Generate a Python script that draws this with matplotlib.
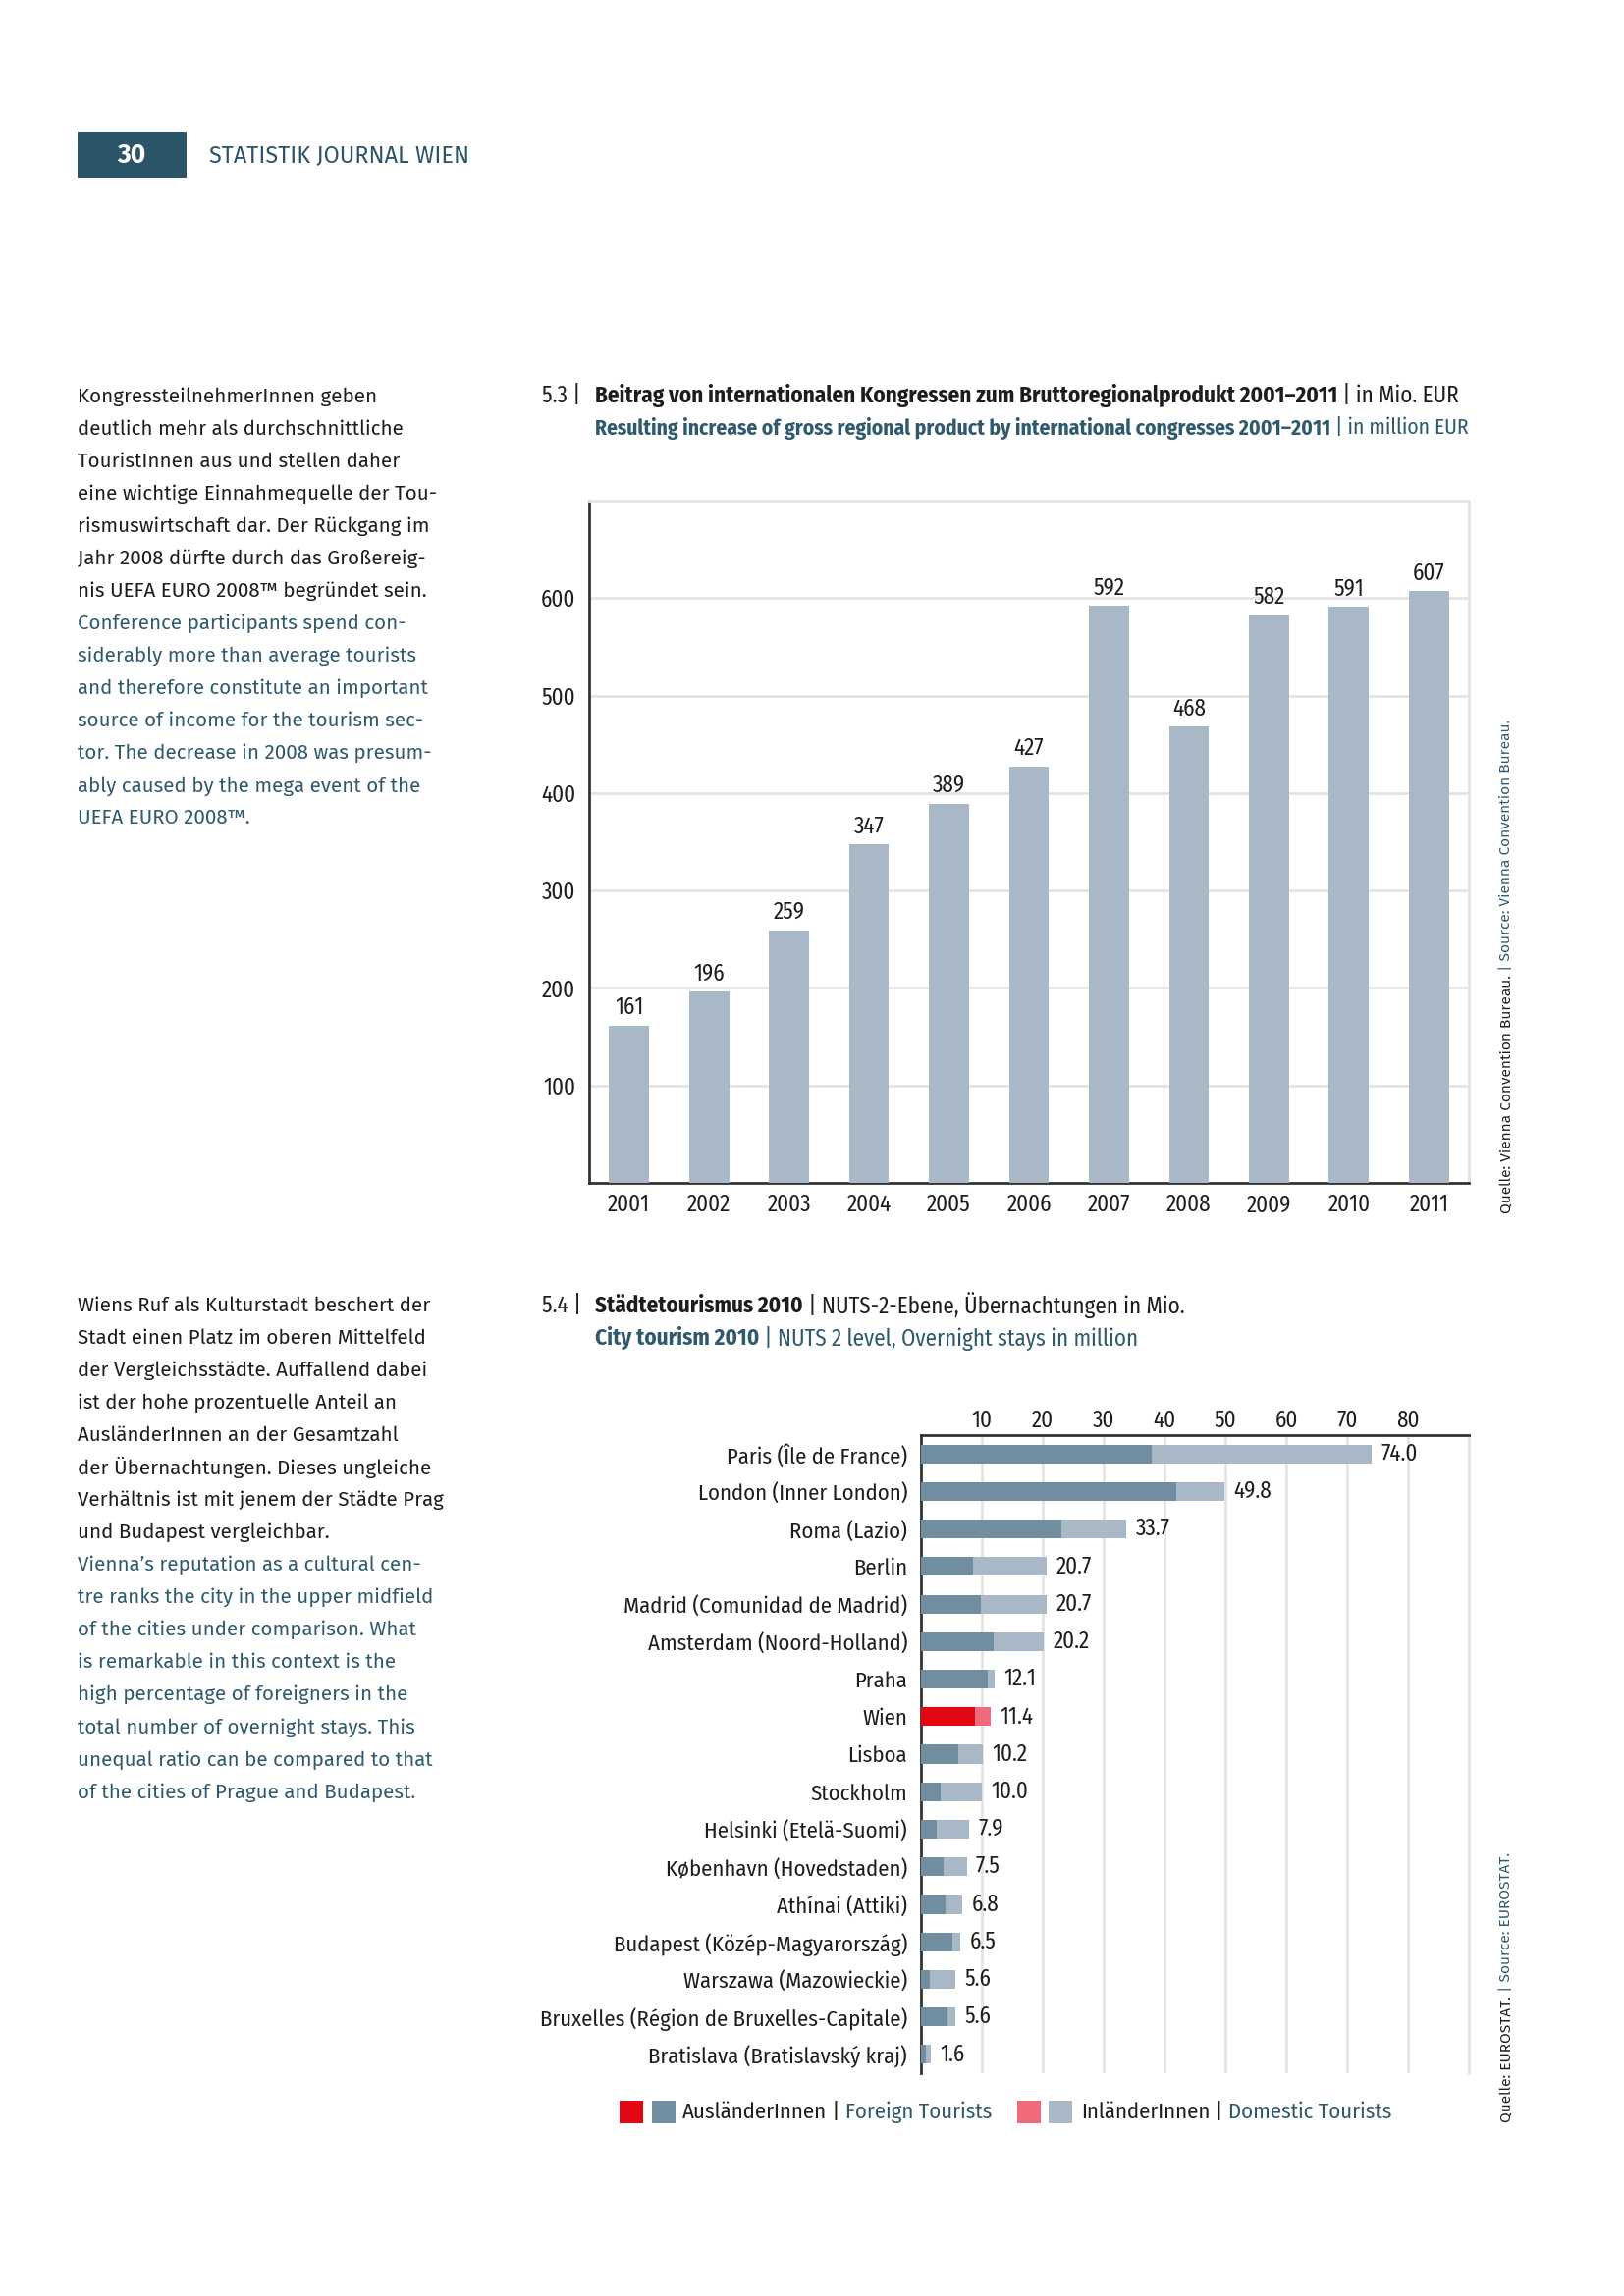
import matplotlib
matplotlib.use("Agg")
import matplotlib.pyplot as plt
from matplotlib import font_manager as fm
from matplotlib.patches import Rectangle
import numpy as np

# ---------------- data ----------------
years = ['2001', '2002', '2003', '2004', '2005', '2006', '2007', '2008', '2009', '2010', '2011']
gdp_contribution = [161, 196, 259, 347, 389, 427, 592, 468, 582, 591, 607]
gdp_ticks = [100, 200, 300, 400, 500, 600]

cities = ['Paris (Île de France)', 'London (Inner London)', 'Roma (Lazio)', 'Berlin',
          'Madrid (Comunidad de Madrid)', 'Amsterdam (Noord-Holland)', 'Praha', 'Wien',
          'Lisboa', 'Stockholm', 'Helsinki (Etelä-Suomi)', 'København (Hovedstaden)',
          'Athínai (Attiki)', 'Budapest (Közép-Magyarország)', 'Warszawa (Mazowieckie)',
          'Bruxelles (Région de Bruxelles-Capitale)', 'Bratislava (Bratislavský kraj)']
total_stays = [74.0, 49.8, 33.7, 20.7, 20.7, 20.2, 12.1, 11.4, 10.2, 10.0, 7.9, 7.5, 6.8, 6.5, 5.6, 5.6, 1.6]
foreign_stays = [37.9, 41.9, 23.1, 8.5, 9.8, 12.0, 10.9, 8.9, 6.2, 3.2, 2.6, 3.7, 4.1, 5.2, 1.5, 4.4, 0.8]
stay_ticks = [10, 20, 30, 40, 50, 60, 70, 80]
highlight_city = 'Wien'

# ---------------- fonts ----------------
avail = {f.name for f in fm.fontManager.ttflist}
def pick(cands):
    for c in cands:
        if c in avail:
            return c
    return 'DejaVu Sans'

COND = pick(['Fira Sans Condensed', 'Fira Sans Extra Condensed', 'Roboto Condensed',
             'PT Sans Narrow', 'Open Sans Condensed', 'Liberation Sans Narrow', 'Roboto'])
BODY = pick(['Fira Sans', 'Open Sans', 'Noto Sans', 'Lato'])

BLACK = '#1d1d1b'
TEAL = '#2f5a6e'
HEAD = '#2a5468'
BAR = '#a8b8c7'
FOREIGN = '#718ea1'
DOMESTIC = '#a8b8c7'
WIEN_F = '#e30613'
WIEN_D = '#ef6b7b'
GRID = '#e4e4e4'
SPINE = '#333333'

W, H = 1654, 2339
DPI = 200
fig = plt.figure(figsize=(W / DPI, H / DPI), dpi=DPI)
fig.patch.set_facecolor('white')

def fx(x):
    return x / W
def fy(y):
    return 1 - y / H

renderer = fig.canvas.get_renderer()

def seg_text(x, y, parts, size, family):
    """parts: list of (text, color, weight)"""
    cur = x
    for s, col, wt in parts:
        t = fig.text(fx(cur), fy(y), s, color=col, fontsize=size, fontweight=wt,
                     family=family, va='center', ha='left')
        bb = t.get_window_extent(renderer)
        cur = bb.x1
    return cur

# ---------------- header ----------------
fig.patches.append(Rectangle((fx(79), fy(180.5)), fx(189.5) - fx(79), fy(134) - fy(180.5),
                             transform=fig.transFigure, facecolor=HEAD, edgecolor='none'))
fig.text(fx(134), fy(158), '30', color='white', fontsize=9.5, fontweight='bold',
         family=BODY, ha='center', va='center')
fig.text(fx(213), fy(158), 'STATISTIK JOURNAL WIEN', color=HEAD, fontsize=8.45,
         family=BODY, ha='left', va='center')

# ---------------- body text ----------------
block1_de = ["KongressteilnehmerInnen geben",
             "deutlich mehr als durchschnittliche",
             "TouristInnen aus und stellen daher",
             "eine wichtige Einnahmequelle der Tou-",
             "rismuswirtschaft dar. Der Rückgang im",
             "Jahr 2008 dürfte durch das Großereig-",
             "nis UEFA EURO 2008™ begründet sein."]
block1_en = ["Conference participants spend con-",
             "siderably more than average tourists",
             "and therefore constitute an important",
             "source of income for the tourism sec-",
             "tor. The decrease in 2008 was presum-",
             "ably caused by the mega event of the",
             "UEFA EURO 2008™."]
block2_de = ["Wiens Ruf als Kulturstadt beschert der",
             "Stadt einen Platz im oberen Mittelfeld",
             "der Vergleichsstädte. Auffallend dabei",
             "ist der hohe prozentuelle Anteil an",
             "AusländerInnen an der Gesamtzahl",
             "der Übernachtungen. Dieses ungleiche",
             "Verhältnis ist mit jenem der Städte Prag",
             "und Budapest vergleichbar."]
block2_en = ["Vienna’s reputation as a cultural cen-",
             "tre ranks the city in the upper midfield",
             "of the cities under comparison. What",
             "is remarkable in this context is the",
             "high percentage of foreigners in the",
             "total number of overnight stays. This",
             "unequal ratio can be compared to that",
             "of the cities of Prague and Budapest."]

def body_block(y0, de, en, step=33.05):
    i = 0
    for line in de:
        fig.text(fx(79), fy(y0 + i * step), line, color=BLACK, fontsize=7.4,
                 family=BODY, ha='left', va='center')
        i += 1
    for line in en:
        fig.text(fx(79), fy(y0 + i * step), line, color=TEAL, fontsize=7.4,
                 family=BODY, ha='left', va='center')
        i += 1

body_block(404, block1_de, block1_en)
body_block(1330, block2_de, block2_en)

# ---------------- titles ----------------
TS = 8.3
fig.text(fx(552), fy(403), '5.3 |', color=BLACK, fontsize=TS, family=COND, ha='left', va='center')
seg_text(606, 403, [('Beitrag von internationalen Kongressen zum Bruttoregionalprodukt 2001–2011', BLACK, 'bold'),
                    (' | in Mio. EUR', BLACK, 'normal')], TS, COND)
seg_text(606, 436, [('Resulting increase of gross regional product by international congresses 2001–2011', TEAL, 'bold'),
                    (' | in million EUR', TEAL, 'normal')], 7.75, COND)

fig.text(fx(552), fy(1330), '5.4 |', color=BLACK, fontsize=TS, family=COND, ha='left', va='center')
seg_text(606, 1330, [('Städtetourismus 2010', BLACK, 'bold'),
                     (' | NUTS-2-Ebene, Übernachtungen in Mio.', BLACK, 'normal')], TS, COND)
seg_text(606, 1363, [('City tourism 2010', TEAL, 'bold'),
                     (' | NUTS 2 level, Overnight stays in million', TEAL, 'normal')], TS, COND)

LS = 8.3
# ---------------- chart 5.3 ----------------
ax1 = fig.add_axes([fx(600), fy(1205), fx(1496) - fx(600), fy(510) - fy(1205)])
x = np.arange(len(years))
ax1.bar(x, gdp_contribution, width=0.5, color=BAR, zorder=3)
for xi, v in zip(x, gdp_contribution):
    ax1.annotate(str(v), (xi, v), xytext=(0, 2.5), textcoords='offset points',
                 ha='center', va='bottom', fontsize=LS, family=COND, color=BLACK)
ax1.set_xlim(-0.5, len(years) - 0.5)
ax1.set_ylim(0, 700)
ax1.set_yticks(gdp_ticks)
ax1.set_yticklabels([str(t) for t in gdp_ticks])
ax1.set_xticks(x)
ax1.set_xticklabels(years)
ax1.tick_params(axis='both', length=0, labelsize=LS, colors=BLACK)
ax1.tick_params(axis='y', pad=5)
ax1.tick_params(axis='x', pad=4)
for lab in ax1.get_xticklabels() + ax1.get_yticklabels():
    lab.set_family(COND)
ax1.grid(axis='y', color=GRID, linewidth=1.0, zorder=0)
ax1.set_axisbelow(True)
for s in ['top', 'right']:
    ax1.spines[s].set_color(GRID)
    ax1.spines[s].set_linewidth(1.0)
for s in ['left', 'bottom']:
    ax1.spines[s].set_color(SPINE)
    ax1.spines[s].set_linewidth(1.0)

# ---------------- chart 5.4 ----------------
ax2 = fig.add_axes([fx(938), fy(2112), fx(1496) - fx(938), fy(1462) - fy(2112)])
y = np.arange(len(cities))
domestic = [t - f for t, f in zip(total_stays, foreign_stays)]
fcols = [WIEN_F if c == highlight_city else FOREIGN for c in cities]
dcols = [WIEN_D if c == highlight_city else DOMESTIC for c in cities]
ax2.barh(y, foreign_stays, height=0.5, color=fcols, zorder=3)
ax2.barh(y, domestic, left=foreign_stays, height=0.5, color=dcols, zorder=3)
for yi, t in zip(y, total_stays):
    ax2.annotate(f'{t:.1f}', (t, yi), xytext=(3.4, 0), textcoords='offset points',
                 ha='left', va='center', fontsize=LS, family=COND, color=BLACK)
ax2.set_xlim(0, 90)
ax2.set_ylim(len(cities) - 0.5, -0.5)
ax2.set_yticks(y)
ax2.set_yticklabels(cities)
ax2.set_xticks(stay_ticks)
ax2.set_xticklabels([str(t) for t in stay_ticks])
ax2.xaxis.tick_top()
ax2.tick_params(axis='both', length=0, labelsize=LS, colors=BLACK)
ax2.tick_params(axis='x', pad=1.2)
ax2.tick_params(axis='y', pad=5)
for lab in ax2.get_xticklabels():
    lab.set_family(COND)
for lab in ax2.get_yticklabels():
    lab.set_family(COND)
    lab.set_fontsize(8.2)
ax2.grid(axis='x', color=GRID, linewidth=1.0, zorder=0)
ax2.set_axisbelow(True)
ax2.spines['bottom'].set_visible(False)
ax2.spines['right'].set_color(GRID)
ax2.spines['right'].set_linewidth(1.0)
for s in ['left', 'top']:
    ax2.spines[s].set_color(SPINE)
    ax2.spines[s].set_linewidth(1.0)

# ---------------- legend ----------------
LY = 2151.5
SQ = 23.5
for x0, col in [(631, WIEN_F), (664, FOREIGN), (1036, WIEN_D), (1068, DOMESTIC)]:
    fig.patches.append(Rectangle((fx(x0), fy(LY + SQ / 2)), fx(SQ), SQ / H,
                                 transform=fig.transFigure, facecolor=col, edgecolor='none'))
seg_text(695, LY, [('AusländerInnen', BLACK, 'normal'), (' | ', BLACK, 'normal'),
                   ('Foreign Tourists', TEAL, 'normal')], 8.2, COND)
seg_text(1101, LY, [('InländerInnen', BLACK, 'normal'), (' | ', BLACK, 'normal'),
                    ('Domestic Tourists', TEAL, 'normal')], 8.2, COND)

# ---------------- sources (rotated) ----------------
def rot_source(xc, ybottom, de, en, size=5.55):
    t1 = fig.text(fx(xc), fy(ybottom), de, rotation=90, color=BLACK, fontsize=size,
                  family=BODY, ha='center', va='bottom')
    bb = t1.get_window_extent(renderer)
    fig.text(fx(xc), bb.y1 / H, ' | ' + en, rotation=90, color=TEAL, fontsize=size,
             family=BODY, ha='center', va='bottom')

rot_source(1534, 1236, 'Quelle: Vienna Convention Bureau.', 'Source: Vienna Convention Bureau.')
rot_source(1534, 2162, 'Quelle: EUROSTAT.', 'Source: EUROSTAT.')

fig.savefig('out.png', dpi=DPI, facecolor='white')
